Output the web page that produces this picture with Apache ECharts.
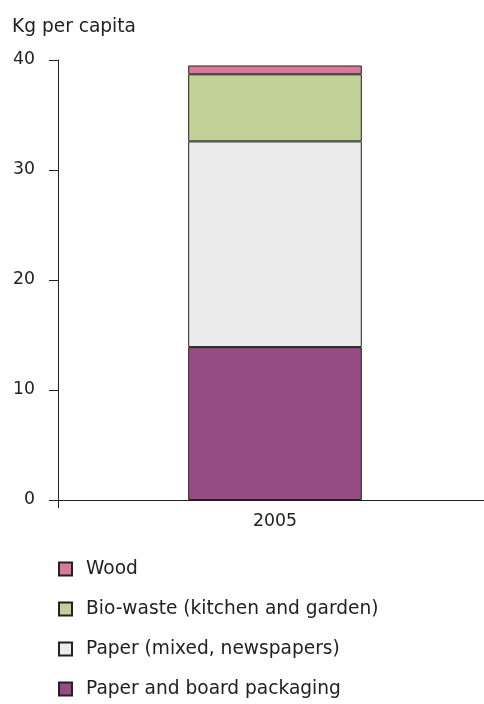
<!DOCTYPE html>
<html>
<head>
<meta charset="utf-8">
<style>html,body{margin:0;padding:0;background:#fff}#c{width:484px;height:704px}</style>
<script src="https://cdn.jsdelivr.net/npm/echarts@6/dist/echarts.min.js"></script>
</head>
<body>
<div id="c"></div>
<script>
var categories = ['2005'];
var packaging = [13.9];
var paperMixed = [18.7];
var bioWaste = [6.1];
var wood = [0.8];
var yTicks = [0, 10, 20, 30, 40];

var FONT = 'DejaVu Sans';
var chart = echarts.init(document.getElementById('c'));
function s(name, data, color) {
  return {
    name: name, type: 'bar', stack: 't', data: data, barWidth: '40%',
    itemStyle: { color: color, borderColor: '#222', borderWidth: 1 },
    emphasis: { disabled: true }
  };
}
chart.setOption({
  animation: false,
  textStyle: { fontFamily: FONT },
  title: { text: 'Kg per capita', left: 7, top: 13,
    textStyle: { fontFamily: FONT, fontSize: 18.6, fontWeight: 'normal', color: '#222' } },
  grid: { left: 58, top: 60, width: 434, height: 440, outerBoundsMode: 'none', containLabel: false },
  xAxis: {
    type: 'category', data: categories,
    axisLine: { lineStyle: { color: '#222' } },
    axisTick: { show: true, length: 8, lineStyle: { color: '#222' } },
    axisLabel: { fontFamily: FONT, fontSize: 17.3, color: '#222', margin: 13 }
  },
  yAxis: {
    type: 'value', min: yTicks[0], max: yTicks[yTicks.length - 1], interval: 10,
    splitLine: { show: false },
    axisLine: { show: true, lineStyle: { color: '#222' } },
    axisTick: { show: true, length: 9, lineStyle: { color: '#222' } },
    axisLabel: { fontFamily: FONT, fontSize: 17.3, color: '#222', margin: 23 }
  },
  legend: {
    orient: 'vertical', left: 53, top: 554, height: 150, itemWidth: 13, itemHeight: 13, itemGap: 20,
    icon: 'rect',
    data: ['Wood', 'Bio-waste (kitchen and garden)', 'Paper (mixed, newspapers)', 'Paper and board packaging'],
    textStyle: { fontFamily: FONT, fontSize: 18.6, color: '#222', lineHeight: 20, padding: [0, 0, 0, 9] }
  },
  series: [
    s('Paper and board packaging', packaging, '#944c82'),
    s('Paper (mixed, newspapers)', paperMixed, '#ebeceb'),
    s('Bio-waste (kitchen and garden)', bioWaste, '#c2d198'),
    s('Wood', wood, '#d77b9b')
  ]
});
</script>
</body>
</html>
